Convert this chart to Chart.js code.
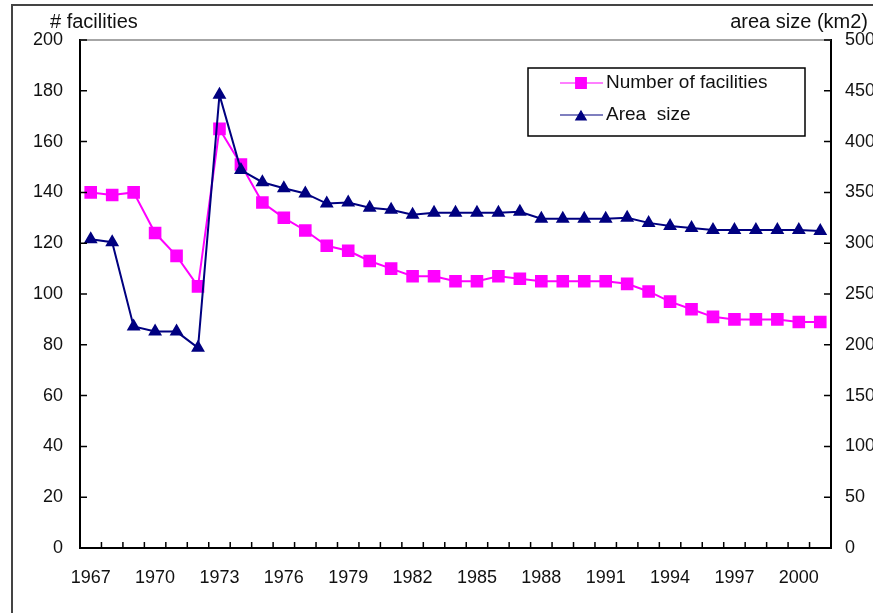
<!DOCTYPE html>
<html>
<head>
<meta charset="utf-8">
<script src="https://cdn.jsdelivr.net/npm/chart.js@4.4.1/dist/chart.umd.min.js"></script>
<style>
body{margin:0;background:#fff;}
canvas{display:block;}
</style>
</head>
<body>
<canvas id="c" width="873" height="613"></canvas>
<script>

let years=[1967,1968,1969,1970,1971,1972,1973,1974,1975,1976,1977,1978,1979,1980,1981,1982,1983,1984,1985,1986,1987,1988,1989,1990,1991,1992,1993,1994,1995,1996,1997,1998,1999,2000,2001];

let facilities=[140,139,140,124,115,103,165,151,136,130,125,119,117,113,110,107,107,105,105,107,106,105,105,105,105,104,101,97,94,91,90,90,90,89,89];

let area=[304,301,218,213,213,197,446,372,360,354,349,339,340,335,333,328,330,330,330,330,331,324,324,324,324,325,320,317,315,313,313,313,313,313,312];

let leftTicks=[0,20,40,60,80,100,120,140,160,180,200];
let rightTicks=[0,50,100,150,200,250,300,350,400,450,500];

let seriesNames=["Number of facilities","Area  size"];
let leftTitle="# facilities";
let rightTitle="area size (km2)";

const FONT='"Liberation Sans", Arial, sans-serif';
const TXT="#111";
const PINK="#ff00ff";
const NAVY="#000080";

let extras={
id:"extras",
beforeDraw(chart){
let ctx=chart.ctx;
ctx.save();
ctx.fillStyle="#fff";
ctx.fillRect(0,0,chart.width,chart.height);
ctx.restore();
},
afterDraw(chart){
let ctx=chart.ctx;
let a=chart.chartArea;
let x=chart.scales.x;
let yl=chart.scales.y;
let yr=chart.scales.y2;

ctx.save();

// outer frame
ctx.strokeStyle="#444";
ctx.lineWidth=2;
ctx.beginPath();
ctx.moveTo(12,613);
ctx.lineTo(12,5);
ctx.lineTo(873,5);
ctx.stroke();

// top of plot area
ctx.strokeStyle="#888";
ctx.lineWidth=1.5;
ctx.beginPath();
ctx.moveTo(a.left,a.top);
ctx.lineTo(a.right,a.top);
ctx.stroke();

// inward tick marks
ctx.strokeStyle="#000";
ctx.lineWidth=1.5;
ctx.beginPath();
leftTicks.forEach(v=>{
let p=yl.getPixelForValue(v);
ctx.moveTo(a.left,p);
ctx.lineTo(a.left+7,p);
});
rightTicks.forEach(v=>{
let p=yr.getPixelForValue(v);
ctx.moveTo(a.right-7,p);
ctx.lineTo(a.right,p);
});
for(let i=1;i<years.length;i++){
let p=(x.getPixelForValue(i-1)+x.getPixelForValue(i))/2;
ctx.moveTo(p,a.bottom);
ctx.lineTo(p,a.bottom-6);
}
ctx.stroke();

// axis titles
ctx.fillStyle=TXT;
ctx.font="20px "+FONT;
ctx.textBaseline="middle";
ctx.textAlign="left";
ctx.fillText(leftTitle,50,22);
ctx.textAlign="right";
ctx.fillText(rightTitle,868,22);

// legend
ctx.strokeStyle="#000";
ctx.lineWidth=1.5;
ctx.strokeRect(528,68,277,68);
let ds=chart.data.datasets;
[0,1].forEach(i=>{
let d=ds[i];
let ly=83+i*32;
ctx.strokeStyle=d.borderColor;
ctx.lineWidth=1.2;
ctx.beginPath();
ctx.moveTo(560,ly);
ctx.lineTo(603,ly);
ctx.stroke();
ctx.fillStyle=d.pointBackgroundColor;
ctx.strokeStyle=d.borderColor;
Chart.helpers.drawPoint(ctx,{pointStyle:d.pointStyle,radius:d.pointRadius,borderWidth:1,rotation:0},581,ly+(d.pointStyle==="triangle"?2:0));
ctx.fillStyle=TXT;
ctx.font="19px "+FONT;
ctx.textAlign="left";
ctx.textBaseline="middle";
ctx.fillText(d.label,606,ly);
});

ctx.restore();
}
};

new Chart(document.getElementById("c"),{
type:"line",
data:{
labels:years,
datasets:[
{
label:seriesNames[0],
data:facilities,
yAxisID:"y",
borderColor:PINK,
backgroundColor:PINK,
pointBackgroundColor:PINK,
pointBorderColor:PINK,
pointStyle:"rect",
pointRadius:7.5,
borderWidth:2,
tension:0,
order:1
},
{
label:seriesNames[1],
data:area,
yAxisID:"y2",
borderColor:NAVY,
backgroundColor:NAVY,
pointBackgroundColor:NAVY,
pointBorderColor:NAVY,
pointStyle:"triangle",
pointRadius:6,
borderWidth:2,
tension:0,
order:0
}
]
},
options:{
responsive:false,
devicePixelRatio:1,
animation:false,
layout:{padding:{top:40,left:0,right:0,bottom:0}},
plugins:{legend:{display:false},tooltip:{enabled:false}},
scales:{
x:{
type:"category",
offset:true,
grid:{display:false,drawTicks:false},
border:{display:true,color:"#000",width:2},
afterFit(s){s.height=65;},
ticks:{
autoSkip:false,
maxRotation:0,
padding:19,
color:TXT,
font:{family:FONT,size:18},
callback(v,i){
let yr=years[i];
return (yr-1967)%3===0?String(yr):"";
}
}
},
y:{
position:"left",
min:0,
max:200,
grid:{display:false,drawTicks:false},
border:{display:true,color:"#000",width:2},
afterFit(s){s.width=80;},
afterBuildTicks(s){s.ticks=leftTicks.map(v=>({value:v}));},
ticks:{padding:17,color:TXT,font:{family:FONT,size:18}}
},
y2:{
position:"right",
min:0,
max:500,
grid:{display:false,drawTicks:false},
border:{display:true,color:"#000",width:2},
afterFit(s){s.width=42;},
afterBuildTicks(s){s.ticks=rightTicks.map(v=>({value:v}));},
ticks:{padding:14,color:TXT,font:{family:FONT,size:18}}
}
}
},
plugins:[extras]
});

</script>
</body>
</html>
